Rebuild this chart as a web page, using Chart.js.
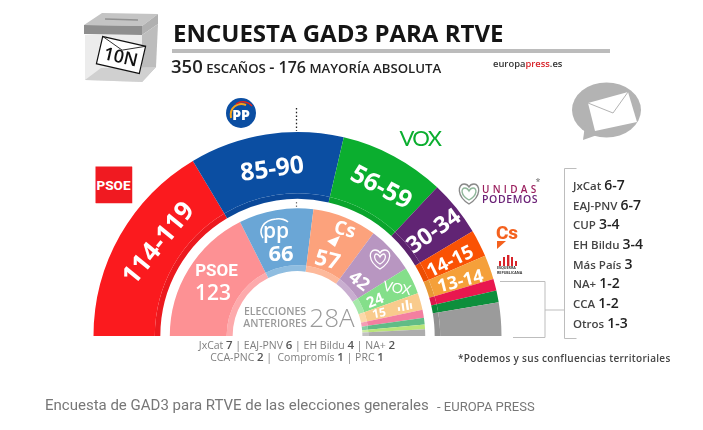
<!DOCTYPE html>
<html lang="es">
<head>
<meta charset="utf-8">
<title>Encuesta GAD3 para RTVE</title>
<script src="https://cdn.jsdelivr.net/npm/chart.js@4"></script>
<style>
  html, body { margin: 0; padding: 0; background: #fff; }
  #stage { position: relative; width: 703px; height: 430px; overflow: hidden; font-family: "Open Sans", sans-serif; }
  #seats { position: absolute; left: 0; top: 0; }
  #art { position: absolute; left: 0; top: 0; }
  .t { position: absolute; white-space: nowrap; line-height: 1; }
  .t b { font-weight: 600; }
</style>
</head>
<body>
<div id="stage">
  <canvas id="seats" width="703" height="430"></canvas>
  <svg id="art" width="703" height="430" viewBox="0 0 703 430">
    <!-- urna -->
    <polygon points="84,25 102,13 158,14 142,26" fill="#c4c4c4"/>
    <line x1="105" y1="19" x2="138" y2="20" stroke="#909090" stroke-width="1.5"/>
    <polygon points="84,25 142,26 142,35 84,34" fill="#8e8e8e"/>
    <polygon points="142,26 158,14 158,24 142,35" fill="#b0b0b0"/>
    <polygon points="85,35 142,35 142,82 85,80" fill="#ececec"/>
    <polygon points="142,35 158,24 156,67 142,82" fill="#bdbdbd"/>
    <polygon points="85,80 101,68 156,67 142,82" fill="#d0d0d0"/>
    <g transform="translate(121 55) rotate(13)">
      <rect x="-22" y="-14" width="44" height="28" fill="#fff" stroke="#111" stroke-width="1.2"/>
      <polyline points="-22,-14 0,-5 22,-14" fill="none" stroke="#111" stroke-width="0.8"/>
    </g>
    <!-- sobre -->
    <ellipse cx="606.5" cy="110" rx="34.5" ry="27.5" fill="#b3b3b3"/>
    <polygon points="583,140 585,125 600,134" fill="#b3b3b3"/>
    <polygon points="588,103 628,92 637,122 595,131" fill="#fff"/>
    <polyline points="588,103 613,113 628,92" fill="none" stroke="#b3b3b3" stroke-width="1"/>
    <!-- logo PP -->
    <circle cx="241" cy="113" r="15" fill="#0b4ea2"/>
    <path d="M231 118 C229 107 238 102 246 105" fill="none" stroke="#f6a31a" stroke-width="2"/>
    <path d="M236 104 C242 100 249 102 252 106" fill="none" stroke="#e2231a" stroke-width="1.5"/>
    <!-- mayoria absoluta -->
    <line x1="296.5" y1="108" x2="296.5" y2="131" stroke="#222" stroke-width="1.3" stroke-dasharray="1.5 2.2"/>
    <line x1="296.5" y1="202" x2="296.5" y2="208" stroke="#777" stroke-width="1.2" stroke-dasharray="1.5 2"/>
    <!-- corazon Unidas Podemos -->
    <g fill="none" stroke="#8fb79a" stroke-width="1.4">
      <path d="M469 204 C456 196 458 184 464 184 C466 184 468 185 469 187 C470 185 472 184 474 184 C480 184 482 196 469 204 Z" stroke="#8a8a8a"/>
      <path d="M469 200 C460 195 461 188 465 188 C467 188 468 189 469 191 C470 189 471 188 473 188 C477 188 478 195 469 200 Z"/>
    </g>
    <!-- triangulo Cs -->
    <polygon points="497,241 506,241 497,249" fill="#f4611e"/>
    <!-- barras ERC -->
    <g fill="#d8232a">
      <rect x="499" y="261" width="2" height="5"/>
      <rect x="503" y="257" width="2" height="9"/>
      <rect x="507" y="255" width="2.4" height="11"/>
      <rect x="511" y="257" width="2" height="9"/>
      <rect x="515" y="261" width="2" height="5"/>
    </g>
    <!-- llaves -->
    <g fill="none" stroke="#bdbdbd" stroke-width="1">
      <polyline points="500,281.5 545,281.5 545,337.5 513,337.5"/>
      <line x1="545" y1="310" x2="564" y2="310"/>
      <polyline points="576.5,168.5 564.5,168.5 564.5,338.5 576.5,338.5"/>
    </g>
    <!-- iconos del anillo interior -->
    <g fill="#fff">
      <polygon points="327,241 340,236 335,247"/>
      <rect x="398" y="307" width="2" height="4" transform="rotate(-8 399 309)"/>
      <rect x="402" y="303" width="2" height="8" transform="rotate(-8 403 307)"/>
      <rect x="406" y="300" width="2.4" height="10" transform="rotate(-8 407 305)"/>
      <rect x="410" y="303" width="2" height="6" transform="rotate(-8 411 306)"/>
    </g>
    <g fill="none" stroke="#fff" stroke-width="1.3">
      <path d="M380 269 C367 261 369 250 375 250 C377 250 379 251 380 253 C381 251 383 250 385 250 C391 250 393 261 380 269 Z"/>
      <path d="M380 264 C373 260 374 254 376.5 254 C378 254 379 255 380 257 C381 255 382 254 383.5 254 C386 254 387 260 380 264 Z"/>
      <path d="M263 238 C258 230 263 220 276 219 C281 218 286 220 288 222" stroke-width="1.6"/>
    </g>
  </svg>
</div>
<script>
// escaños por partido: encuesta (anillo exterior) y 28A (anillo interior)
const pollParties = ['PSOE', 'PP', 'VOX', 'Unidas Podemos', 'Cs', 'ERC', 'JxCat', 'EAJ-PNV', 'Otros'];
const pollSeats = [115, 85.5, 58.5, 31, 15, 13.5, 6.5, 6.5, 18.5];
const pollColors = ['#fb1a1e', '#0b4ea2', '#0bae2f', '#612474', '#fa5204', '#f5a03a', '#e9174f', '#0d8f3c', '#9b9b9b'];
const pollEdge = ['#ec191e', '#0a4899', '#0aa42c', '#5b226d', '#ec4d04', '#e89836', '#dc164a', '#0c8738', '#929292'];
const pollRanges = ['114-119', '85-90', '56-59', '30-34', '14-15', '13-14'];

const prevParties = ['PSOE', 'PP', 'Cs', 'Unidas Podemos', 'VOX', 'ERC', 'JxCat', 'EAJ-PNV', 'EH Bildu', 'Otros'];
const prevSeats = [123, 66, 57, 42, 24, 15, 7, 6, 4, 6];
const prevColors = ['#fd9194', '#6aa6d6', '#fca27c', '#b896c1', '#84df8a', '#f9cb8d', '#f37fa0', '#60bc86', '#b9e57a', '#adadad'];
const prevEdge = ['#fdaaac', '#8fbde0', '#fdb99b', '#c9aed0', '#a6e8aa', '#fbd9aa', '#f69cb5', '#86cda3', '#cdeca0', '#c2c2c2'];

const otherNames = ['JxCat', 'EAJ-PNV', 'CUP', 'EH Bildu', 'Más País', 'NA+', 'CCA', 'Otros'];
const otherRanges = ['6-7', '6-7', '3-4', '3-4', '3', '1-2', '1-2', '1-3'];

const stage = document.getElementById('stage');

// texto suelto encima del canvas
function put(html, x, y, size, opts) {
    const o = opts || {};
    const el = document.createElement('div');
    el.className = 't';
    el.innerHTML = html;
    el.style.left = x + 'px';
    el.style.top = y + 'px';
    el.style.fontSize = size + 'px';
    el.style.fontWeight = o.weight || 400;
    el.style.color = o.color || '#fff';
    if (o.family) el.style.fontFamily = o.family;
    if (o.spacing) el.style.letterSpacing = o.spacing + 'px';
    const shift = o.left ? 'translate(0,-50%)' : 'translate(-50%,-50%)';
    el.style.transform = shift + ' rotate(' + (o.rot || 0) + 'deg)';
    stage.appendChild(el);
    return el;
}

// hemiciclo: cada anillo lleva una banda fina interior de otro tono
new Chart(document.getElementById('seats').getContext('2d'), {
    type: 'doughnut',
    data: {
        labels: pollParties,
        datasets: [
            { data: pollSeats, backgroundColor: pollColors, weight: 61.5 },
            { data: pollSeats, backgroundColor: pollEdge, weight: 5.5 },
            { data: pollSeats, backgroundColor: 'rgba(0,0,0,0)', weight: 9.5 },
            { data: prevSeats, backgroundColor: prevColors, weight: 57 },
            { data: prevSeats, backgroundColor: prevEdge, weight: 6 }
        ]
    },
    options: {
        responsive: false,
        animation: false,
        rotation: -90,
        circumference: 180,
        cutout: '31.8%',
        borderWidth: 0,
        layout: { padding: { left: 93, right: 201, top: 132, bottom: 94 } },
        plugins: { legend: { display: false }, tooltip: { enabled: false } }
    }
});

// cabecera
put('ENCUESTA GAD3 PARA RTVE', 173, 33, 24, { left: true, weight: 700, color: '#151515' });
const rule = document.createElement('div');
rule.style.cssText = 'position:absolute;left:172px;top:49px;width:438px;height:4px;background:#bcbcbc';
stage.appendChild(rule);
put('<span style="font-size:18.5px">350</span> ESCAÑOS <span style="font-size:16px">- 176</span> MAYORÍA ABSOLUTA', 171, 66, 13.2, { left: true, weight: 600, color: '#222' });
put('europa<span style="color:#d8232a">press</span>.es', 493, 64, 9.4, { left: true, weight: 600, color: '#333' });
put('10N', 121, 56, 18, { weight: 600, color: '#111', rot: 13 });

// logos de partido
const psoe = put('PSOE', 113.5, 185, 13.5, { weight: 800, family: 'Roboto, sans-serif' });
psoe.style.background = '#f01a21';
psoe.style.width = '37px';
psoe.style.height = '37px';
psoe.style.lineHeight = '37px';
psoe.style.textAlign = 'center';
put('PP', 241, 115, 14, { weight: 800 });
put('VOX', 420, 138, 22, { color: '#0bae2f', family: 'Lato, sans-serif', spacing: -1.5 });
put('UNIDAS', 482, 189, 10, { left: true, weight: 600, color: '#9b1f5e', spacing: 3.3 });
put('PODEMOS', 482, 199, 10.5, { left: true, weight: 600, color: '#6b2277', spacing: 0.6 });
put('*', 538, 181, 9, { color: '#666' });
put('Cs', 507, 232, 19, { weight: 800, color: '#f4611e', family: 'Roboto, sans-serif' });
put('ESQUERRA', 497, 268, 3.6, { left: true, weight: 700, color: '#333' });
put('REPUBLICANA', 497, 272.5, 3.6, { left: true, weight: 700, color: '#333' });

// rangos sobre el anillo exterior
put(pollRanges[0], 157, 241.5, 26, { weight: 700, rot: -51 });
put(pollRanges[1], 272, 168, 24.5, { weight: 700, rot: -8 });
put(pollRanges[2], 381.5, 186, 25, { weight: 700, rot: 28 });
put(pollRanges[3], 432.5, 230, 23, { weight: 700, rot: -35 });
put(pollRanges[4], 450, 260.5, 19, { weight: 700, rot: -26 });
put(pollRanges[5], 460, 280, 18, { weight: 700, rot: -14 });

// resultados del 28A
put(prevParties[0], 216.5, 270, 17, { weight: 700, color: '#fff', family: 'Roboto, sans-serif' });
put(prevSeats[0], 213, 292, 21, { weight: 600 });
put('pp', 276, 230, 21, { weight: 600 });
put(prevSeats[1], 281, 252, 22, { weight: 700 });
put('Cs', 345, 229, 19, { weight: 700, rot: 14 });
put(prevSeats[2], 328, 258, 22, { weight: 700, rot: 14 });
put(prevSeats[3], 360, 280, 18, { weight: 700, rot: 38 });
put(prevSeats[4], 375, 300, 15, { weight: 700, rot: -22 });
put('VOX', 397, 288, 14, { family: 'Lato, sans-serif', spacing: -0.5, rot: 10 });
put(prevSeats[5], 379, 313, 12, { weight: 700, rot: -10 });

put('ELECCIONES', 275, 311, 10.5, { weight: 600, color: '#9a9a9a' });
put('ANTERIORES', 275, 322.5, 10.5, { weight: 600, color: '#9a9a9a' });
put('28A', 332, 317, 26, { weight: 300, color: '#9a9a9a' });

// resto de partidos
otherNames.forEach(function (name, i) {
    const rowY = [185, 204.5, 224, 244, 263.5, 283, 303, 322.5][i];
    put(name + ' <span style="font-size:14px;font-weight:600;color:#222">' + otherRanges[i] + '</span>',
        573, rowY, 11.5, { left: true, weight: 600, color: '#444' });
});

const g = '#7f7f7f', n = 'style="color:#555;font-weight:600;font-size:11.5px"';
put('JxCat <span ' + n + '>7</span> | EAJ-PNV <span ' + n + '>6</span> | EH Bildu <span ' + n + '>4</span> | NA+ <span ' + n + '>2</span>', 297, 345, 10.5, { color: g });
put('CCA-PNC <span ' + n + '>2</span> |&nbsp; Compromís <span ' + n + '>1</span> | PRC <span ' + n + '>1</span>', 297, 357, 10.5, { color: g });

put('*Podemos y sus confluencias territoriales', 458, 358, 10, { left: true, weight: 600, color: '#444', spacing: 0.3 });
put('Encuesta de GAD3 para RTVE de las elecciones generales', 45, 405, 15, { left: true, color: '#777', family: 'Roboto, sans-serif' });
put('- EUROPA PRESS', 437, 405.5, 13, { left: true, color: '#777', family: 'Roboto, sans-serif' });
</script>
</body>
</html>
